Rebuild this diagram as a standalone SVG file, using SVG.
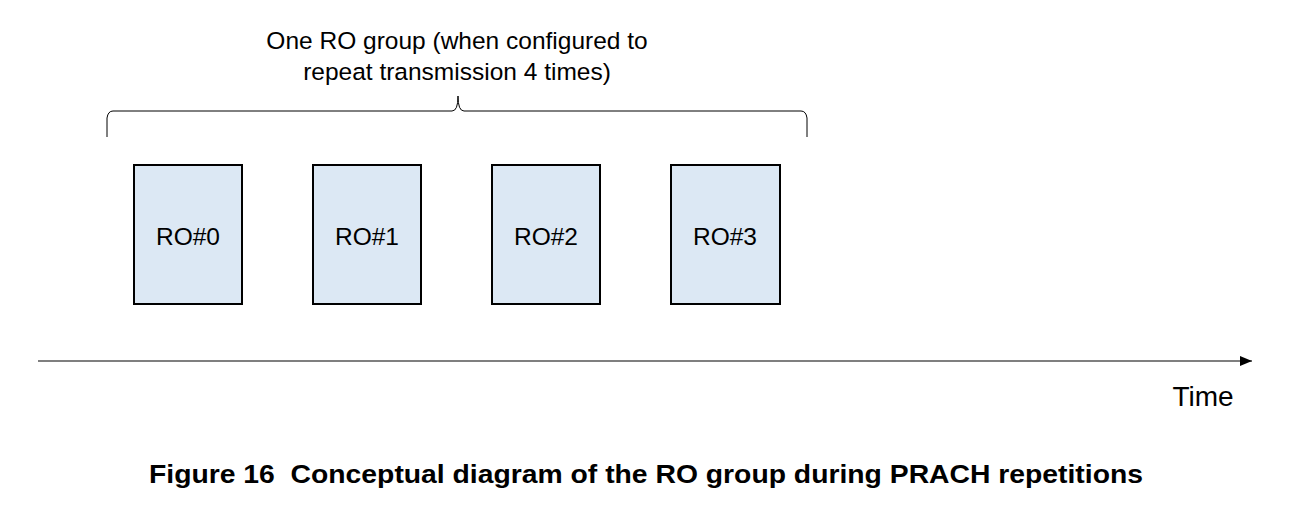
<svg xmlns="http://www.w3.org/2000/svg" width="1299" height="505" viewBox="0 0 1299 505">
<defs>
<style>
.box{fill:#dce8f4;stroke:#000;stroke-width:2}
.lbl{font-family:"Liberation Sans",Arial,sans-serif;font-size:24.5px;fill:#000;text-anchor:middle}
.time{font-family:"Liberation Sans",Arial,sans-serif;font-size:28px;fill:#000;text-anchor:middle}
.cap{font-family:"Liberation Sans",Arial,sans-serif;font-size:26px;font-weight:bold;fill:#000;white-space:pre}
</style>
<marker id="arr" markerWidth="12" markerHeight="10" refX="12" refY="5" orient="auto" markerUnits="userSpaceOnUse">
<path d="M0,0 L12,5 L0,10 Z" fill="#000"/>
</marker>
</defs>
<rect width="1299" height="505" fill="#fff"/>
<g id="brace-label">
<text class="lbl" x="457" y="49">One RO group (when configured to</text>
<text class="lbl" x="457" y="80">repeat transmission 4 times)</text>
</g>
<g id="connectors">
<path d="M107,137 L107,118 Q108,111 113,111 L452,111 Q458,111 458,96 Q458,111 464,111 L801,111 Q806,111 807,118 L807,137" fill="none" stroke="#000" stroke-width="1"/>
<line x1="38" y1="361" x2="1252" y2="361" stroke="#555" stroke-width="1.3" marker-end="url(#arr)"/>
</g>
<g id="ro0"><rect class="box" x="134" y="165" width="108" height="139"/><text class="lbl" x="188" y="245">RO#0</text></g>
<g id="ro1"><rect class="box" x="313" y="165" width="108" height="139"/><text class="lbl" x="367" y="245">RO#1</text></g>
<g id="ro2"><rect class="box" x="492" y="165" width="108" height="139"/><text class="lbl" x="546" y="245">RO#2</text></g>
<g id="ro3"><rect class="box" x="671" y="165" width="109" height="139"/><text class="lbl" x="725" y="245">RO#3</text></g>
<g id="time"><text class="time" x="1203" y="406">Time</text></g>
<g id="caption"><text class="cap" x="149" y="483" textLength="994" lengthAdjust="spacingAndGlyphs">Figure 16  Conceptual diagram of the RO group during PRACH repetitions</text></g>
</svg>
